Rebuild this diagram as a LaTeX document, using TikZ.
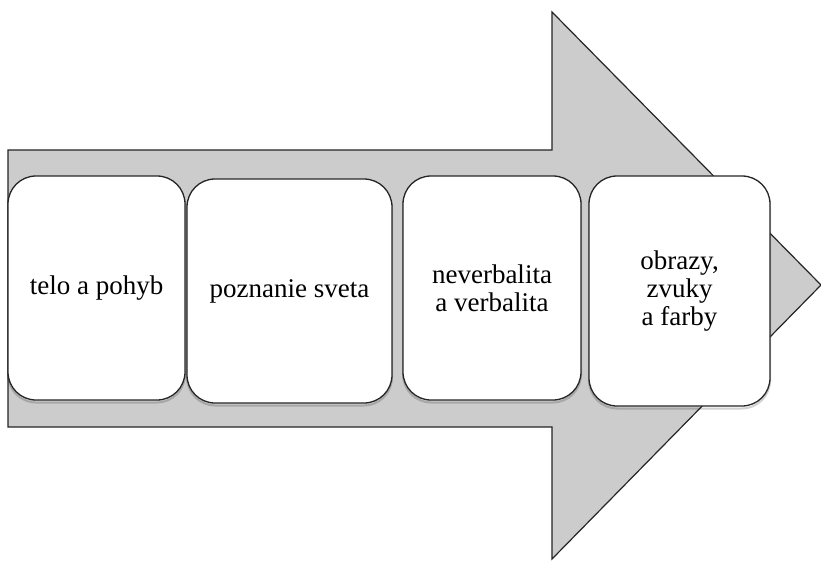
\documentclass[tikz,border=0pt]{standalone}
\usepackage{fontspec}
\setmainfont{Liberation Serif}
\newfontfamily\cardfont{Liberation Serif}
\definecolor{arrowgray}{HTML}{CCCCCC}
\begin{document}
\begin{tikzpicture}[x=1pt,y=-1pt,
  bigarrow/.style={fill=arrowgray,draw=black!85,line width=1.2pt,line join=miter},
  card/.style={draw=black!85,fill=white,line width=1.3pt,rounded corners=28pt,
    align=center,inner sep=4pt,
    preaction={draw=black,line width=2pt,draw opacity=0.18,fill=none,transform canvas={yshift=-2.5pt}},
    font=\cardfont\fontsize{27}{28}\selectfont}]
\useasboundingbox (0,0) rectangle (821,561);
\fill[white] (0,0) rectangle (821,561);
\draw[bigarrow] (8,150) -- (552,150) -- (552,12) -- (821,285) -- (552,559) -- (552,427) -- (8,427) -- cycle;
\node[card,minimum width=177pt,minimum height=224pt] (b1) at (96.5,288) {telo a pohyb};
\node[card,minimum width=205pt,minimum height=224pt] (b2) at (289.5,291) {poznanie sveta};
\node[card,minimum width=178pt,minimum height=224pt] (b3) at (492,288) {neverbalita\\a verbalita};
\node[card,minimum width=181pt,minimum height=230pt] (b4) at (679.5,291) {obrazy,\\zvuky\\a farby};
\end{tikzpicture}
\end{document}
